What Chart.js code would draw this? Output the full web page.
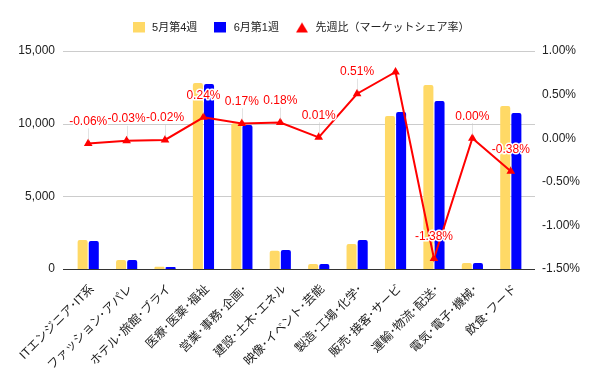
<!DOCTYPE html>
<html>
<head>
<meta charset="utf-8">
<script src="https://cdn.jsdelivr.net/npm/chart.js@4"></script>
<style>
  html, body { margin: 0; padding: 0; background: #fff; }
  #wrap { width: 600px; height: 371px; }
</style>
</head>
<body>
<div id="wrap"><canvas id="chart" width="600" height="371"></canvas></div>
<script>
const categories = [
  "ITエンジニア･IT系", "ファッション･アパレ", "ホテル･旅館･ブライ", "医療･医薬･福祉",
  "営業･事務･企画･", "建設･土木･エネル", "映像･イベント･芸能", "製造･工場･化学･",
  "販売･接客･サービ", "運輸･物流･配送･", "電気･電子･機械･", "飲食･フード"
]
const mayWeek4 = [2000, 620, 150, 12800, 10030, 1260, 350, 1720, 10530, 12660, 410, 11220]
const juneWeek1 = [1930, 620, 130, 12730, 9910, 1310, 350, 2000, 10800, 11560, 410, 10730]
const shareChange = [-0.06, -0.03, -0.02, 0.24, 0.17, 0.18, 0.01, 0.51, 0.76, -1.38, 0.00, -0.38]
const hiddenLabels = [8]   // label overlapped in the original, not shown

const leftTicks = [0, 5000, 10000, 15000]

const FONT = "'Liberation Sans', Arial, 'Noto Sans CJK JP', sans-serif"
Chart.defaults.font.family = FONT
Chart.defaults.font.size = 12
Chart.defaults.color = "#222"

// legend swatches
function swatch(color, shape) {
    const c = document.createElement("canvas")
    c.width = 12
    c.height = 12
    const g = c.getContext("2d")
    g.fillStyle = color
    if (shape === "triangle") {
        g.beginPath()
        g.moveTo(6, 1)
        g.lineTo(12, 11)
        g.lineTo(0, 11)
        g.closePath()
        g.fill()
    } else {
        g.fillRect(0, 0, 12, 11)
    }
    return c
}
const swatches = [swatch("#ffd966"), swatch("#0000ff"), swatch("#ff0000", "triangle")]

// give the legend a fixed height so the plot starts at the right place
const legendHeight = {
    id: "legendHeight",
    beforeInit(chart) {
        const fit = chart.legend.fit
        chart.legend.fit = function() {
            fit.call(this)
            this.height = 44
        }
    }
}

// horizontal gridlines, a little wider than the chart area
const gridLines = {
    id: "gridLines",
    beforeDatasetsDraw(chart) {
        const {ctx, chartArea: {left, right}} = chart
        const y = chart.scales.y
        ctx.save()
        leftTicks.forEach(function(v) {
            const py = Math.round(y.getPixelForValue(v)) + 0.5
            ctx.strokeStyle = v === 0 ? "#333" : "#ccc"
            ctx.lineWidth = 1
            ctx.beginPath()
            ctx.moveTo(left - 6, py)
            ctx.lineTo(right + 5, py)
            ctx.stroke()
        })
        ctx.restore()
    }
}

// value labels above the share line
const shareLabels = {
    id: "shareLabels",
    afterDatasetsDraw(chart) {
        const {ctx} = chart
        const meta = chart.getDatasetMeta(2)
        ctx.save()
        ctx.font = "12px " + FONT
        ctx.textAlign = "center"
        ctx.textBaseline = "middle"
        meta.data.forEach(function(pt, i) {
            if (hiddenLabels.includes(i)) return
            const ly = pt.y - 22
            ctx.strokeStyle = "rgba(200,200,200,0.5)"
            ctx.lineWidth = 1
            ctx.beginPath()
            ctx.moveTo(Math.round(pt.x) + 0.5, ly + 7)
            ctx.lineTo(Math.round(pt.x) + 0.5, pt.y - 3)
            ctx.stroke()
            const txt = shareChange[i].toFixed(2) + "%"
            ctx.lineWidth = 3
            ctx.lineJoin = "round"
            ctx.strokeStyle = "#fff"
            ctx.strokeText(txt, pt.x, ly)
            ctx.fillStyle = "#ff0000"
            ctx.fillText(txt, pt.x, ly)
        })
        ctx.restore()
    }
}

const ctx = document.getElementById("chart").getContext("2d")
const chart = new Chart(ctx, {
    type: "bar",
    data: {
        labels: categories,
        datasets: [{
            label: "5月第4週",
            data: mayWeek4,
            backgroundColor: "#ffd966",
            yAxisID: "y",
            order: 1,
            borderRadius: 2,
            categoryPercentage: 0.58,
            barPercentage: 0.9
        }, {
            label: "6月第1週",
            data: juneWeek1,
            backgroundColor: "#0000ff",
            yAxisID: "y",
            order: 1,
            borderRadius: 2,
            categoryPercentage: 0.58,
            barPercentage: 0.9
        }, {
            type: "line",
            label: "先週比（マーケットシェア率）",
            data: shareChange,
            borderColor: "#ff0000",
            backgroundColor: "#ff0000",
            borderWidth: 2,
            pointStyle: "triangle",
            pointRadius: 3,
            pointBackgroundColor: "#ff0000",
            pointBorderColor: "#ff0000",
            tension: 0,
            yAxisID: "y1",
            order: 0
        }]
    },
    options: {
        responsive: false,
        animation: false,
        layout: {padding: {top: 7, left: 0, right: 0, bottom: 0}},
        scales: {
            x: {
                grid: {display: false, drawTicks: false},
                border: {display: false},
                ticks: {
                    minRotation: 45,
                    maxRotation: 45,
                    autoSkip: false,
                    padding: 13,
                    labelOffset: 4,
                    color: "#222"
                },
                afterFit(scale) { scale.height = 102 }
            },
            y: {
                position: "left",
                min: 0,
                max: 15000,
                grid: {display: false, drawTicks: false},
                border: {display: false},
                afterBuildTicks(scale) { scale.ticks = leftTicks.map(v => ({value: v})) },
                ticks: {
                    padding: 14,
                    callback: v => v.toLocaleString("en-US")
                },
                afterFit(scale) { scale.width = 69 }
            },
            y1: {
                position: "right",
                min: -1.5,
                max: 1,
                grid: {display: false, drawTicks: false},
                border: {display: false},
                ticks: {
                    stepSize: 0.5,
                    padding: 12,
                    callback: v => v.toFixed(2) + "%"
                },
                afterFit(scale) { scale.width = 70 }
            }
        },
        plugins: {
            legend: {
                position: "top",
                labels: {
                    usePointStyle: true,
                    pointStyleWidth: 16,
                    boxWidth: 12,
                    boxHeight: 12,
                    padding: 15,
                    font: {size: 11},
                    color: "#222",
                    sort: (a, b) => a.datasetIndex - b.datasetIndex,
                    generateLabels(chart) {
                        const items = Chart.defaults.plugins.legend.labels.generateLabels(chart)
                        items.forEach(function(it) {
                            it.pointStyle = swatches[it.datasetIndex]
                        })
                        return items
                    }
                }
            },
            tooltip: {enabled: false}
        }
    },
    plugins: [legendHeight, gridLines, shareLabels]
})
</script>
</body>
</html>
